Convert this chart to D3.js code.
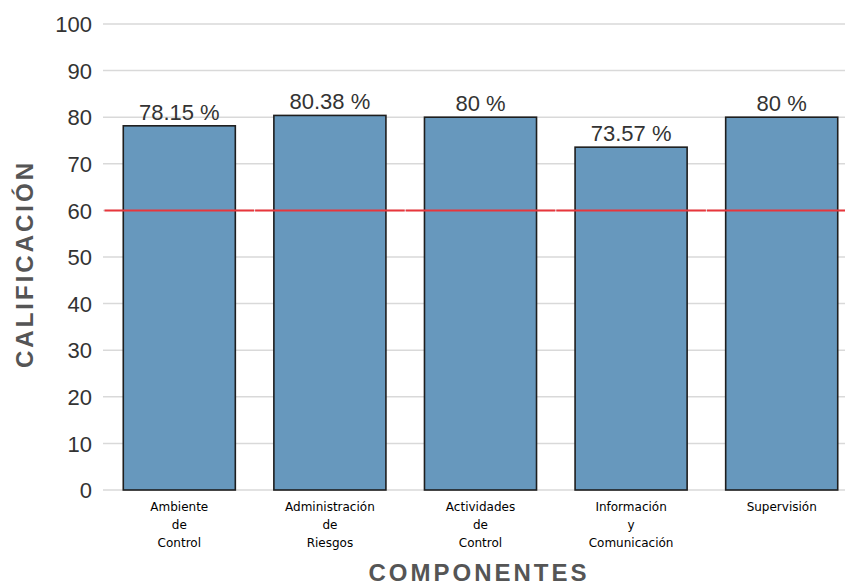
<!DOCTYPE html>
<html><head><meta charset="utf-8">
<script src="https://cdn.jsdelivr.net/npm/d3@7"></script>
<style>body{margin:0;background:#fff}svg{display:block}</style>
</head><body>
<script>
const categories = [["Ambiente","de","Control"],["Administración","de","Riesgos"],["Actividades","de","Control"],["Información","y","Comunicación"],["Supervisión"]];
const values = [78.15, 80.38, 80, 73.57, 80];
const valueLabels = ["78.15 %","80.38 %","80 %","73.57 %","80 %"];
const yTicks = [0,10,20,30,40,50,60,70,80,90,100];
const threshold = 60;

const W = 845, H = 586;
const svg = d3.select("body").append("svg").attr("width", W).attr("height", H);
const keys = categories.map((c,i)=>i);
const x = d3.scaleBand().domain(keys).range([104, 857]).paddingInner(0.256).paddingOuter(0.128);
const y = d3.scaleLinear().domain([0,100]).range([490, 24]);

// grid
svg.append("g").selectAll("line").data(yTicks).join("line")
  .attr("x1", 103).attr("x2", W).attr("y1", d=>y(d)).attr("y2", d=>y(d))
  .attr("stroke", "#d9d9d9").attr("stroke-width", 1.5);

// y axis labels
const yAxis = d3.axisLeft(y).tickValues(yTicks).tickSize(0).tickPadding(0);
const ga = svg.append("g").attr("transform", "translate(92,0)").call(yAxis);
ga.select(".domain").remove();
ga.selectAll("text").attr("font-family", "Liberation Sans, Arial, sans-serif")
  .attr("font-size", 22).attr("fill", "#333").attr("dy", "0.35em");

// bars
svg.append("g").selectAll("rect").data(values).join("rect")
  .attr("x", (d,i)=>x(i)).attr("width", x.bandwidth())
  .attr("y", d=>y(d)).attr("height", d=>y(0)-y(d))
  .attr("fill", "#6798bd").attr("stroke", "#1e1e1e").attr("stroke-width", 1.6);

// value labels
svg.append("g").selectAll("text").data(values).join("text")
  .attr("x", (d,i)=>x(i)+x.bandwidth()/2).attr("y", d=>y(d)-6)
  .attr("text-anchor", "middle").attr("font-family", "Liberation Sans, Arial, sans-serif")
  .attr("font-size", 22).attr("fill", "#333").text((d,i)=>valueLabels[i]);

// threshold line segments per band
svg.append("g").selectAll("line").data(keys).join("line")
  .attr("x1", d=>x(d)-x.step()*x.paddingInner()/2+0.5)
  .attr("x2", d=>Math.min(W, x(d)+x.bandwidth()+x.step()*x.paddingInner()/2-0.5))
  .attr("y1", y(threshold)).attr("y2", y(threshold))
  .attr("stroke", "#e8363c").attr("stroke-width", 2);

// category labels
const cl = svg.append("g").selectAll("text").data(categories).join("text")
  .attr("text-anchor", "middle").attr("font-family", "DejaVu Sans, Verdana, sans-serif")
  .attr("font-size", 12).attr("fill", "#000");
cl.each(function(lines,i){
  d3.select(this).selectAll("tspan").data(lines).join("tspan")
    .attr("x", x(i)+x.bandwidth()/2).attr("y", (l,j)=>511+18*j).text(l=>l);
});

// axis titles
svg.append("text").attr("x", 479).attr("y", 581).attr("text-anchor","middle")
  .attr("font-family","Liberation Sans, Arial, sans-serif").attr("font-weight","bold")
  .attr("font-size", 24).attr("letter-spacing", 3).attr("fill","#555").text("COMPONENTES");
svg.append("text").attr("transform","translate(33,264) rotate(-90)").attr("text-anchor","middle")
  .attr("font-family","Liberation Sans, Arial, sans-serif").attr("font-weight","bold")
  .attr("font-size", 24).attr("letter-spacing", 3).attr("fill","#555").text("CALIFICACIÓN");
</script>
</body></html>
